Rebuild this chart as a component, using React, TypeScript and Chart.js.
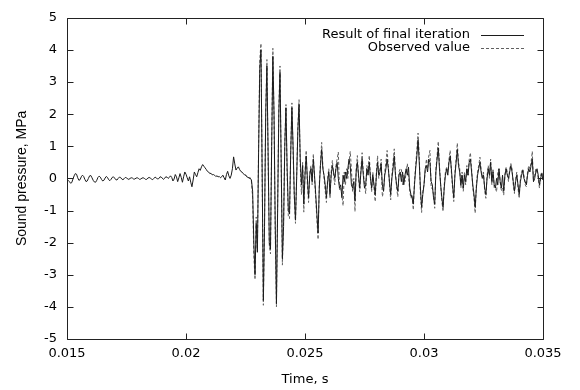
import { useEffect, useRef } from "react";
import { Chart, registerables } from "chart.js";

Chart.register(...registerables);

// Sampled signal: time of first sample and sampling period (s)
const T_START = 0.015;
const T_STEP = 0.00005;
const OBSERVED_START_INDEX = 150;

const resultValues = [
  -0.03, -0.06, -0.1, -0.15, -0.13, -0.02, 0.08, 0.15, 0.13, 0.02,
  -0.06, -0.04, 0.05, 0.1, 0.06, -0.03, -0.1, -0.08, 0.0, 0.08,
  0.09, 0.02, -0.06, -0.11, -0.12, -0.06, 0.03, 0.07, 0.04, -0.03,
  -0.08, -0.06, 0.01, 0.06, 0.03, -0.04, -0.07, -0.03, 0.03, 0.05,
  0.01, -0.04, -0.05, 0.0, 0.04, 0.03, -0.02, -0.04, -0.01, 0.03,
  0.02, -0.02, -0.03, 0.0, 0.02, 0.01, -0.02, -0.02, 0.01, 0.02,
  0.0, -0.03, -0.02, 0.01, 0.02, 0.0, -0.03, -0.03, 0.01, 0.03,
  0.01, -0.02, -0.04, 0.0, 0.04, 0.02, -0.02, -0.01, 0.04, 0.05,
  0.01, -0.03, 0.0, 0.05, 0.04, 0.0, 0.03, 0.08, 0.03, -0.08,
  -0.02, 0.12, 0.05, -0.1, 0.02, 0.15, 0.03, -0.12, 0.05, 0.2,
  0.13, 0.02, -0.08, 0.05, -0.12, -0.26, -0.05, 0.2, 0.12, 0.05,
  0.18, 0.3, 0.25, 0.36, 0.43, 0.38, 0.33, 0.28, 0.22, 0.2,
  0.15, 0.16, 0.11, 0.12, 0.1, 0.06, 0.08, 0.05, 0.06, 0.02,
  0.05, 0.1, 0.02, -0.05, 0.12, 0.22, 0.08, 0.0, 0.1, 0.3,
  0.67, 0.45, 0.26, 0.32, 0.36, 0.28, 0.22, 0.2, 0.15, 0.12,
  0.1, 0.06, 0.03, 0.02, 0.0, -0.05, -0.4, -2.0, -3.0, -1.4,
  -2.3, 0.8, 3.4, 4.0, 0.2, -3.8, -1.5, 2.0, 3.5, 0.8,
  -2.0, -2.2, 1.0, 3.8, 2.0, -1.5, -3.9, -1.0, 2.0, 3.3,
  0.5, -2.5, -1.5, 1.0, 2.2, 0.3, -1.0, -1.1, 0.8, 2.2,
  1.0, -0.5, -1.3, 0.0, 1.5, 2.3, 0.6, -0.2, 0.4, -0.8,
  0.1, 0.7, 0.0, -0.6, 0.1, 0.3, -0.1, 0.6, 0.1, -0.5,
  -1.1, -1.7, -0.3, 0.4, 0.9, 0.3, 0.1, -0.2, -0.6, -0.1,
  0.2, -0.5, 0.1, 0.4, 0.2, 0.0, 0.3, 0.5, 0.0, -0.3,
  -0.2, -0.6, 0.1, -0.1, 0.2, 0.0, 0.3, 0.6, 0.4, -0.2,
  -0.3, -0.1, -0.7, 0.2, 0.5, 0.1, -0.3, 0.2, 0.6, 0.1,
  -0.3, -0.2, 0.3, 0.1, 0.5, 0.0, -0.3, 0.1, -0.2, -0.5,
  0.1, 0.5, 0.1, 0.2, 0.45, -0.2, -0.4, 0.1, 0.3, 0.6,
  0.3, -0.1, -0.5, 0.0, 0.3, 0.7, 0.1, -0.2, -0.4, 0.1,
  0.2, -0.1, 0.2, -0.2, 0.1, 0.3, 0.1, 0.35, -0.3, -0.5,
  -0.6, -0.8, -0.2, 0.3, 0.7, 1.2, 0.5, -0.3, -0.9, -0.5,
  -0.2, 0.3, 0.4, 0.2, 0.6, 0.5, -0.1, -0.2, -0.6, -0.8,
  0.2, 0.6, 0.95, 0.3, -0.2, -0.6, -0.9, -0.3, 0.1, 0.3,
  0.1, 0.5, 0.7, 0.3, -0.2, -0.6, 0.1, 0.5, 0.9, 0.4,
  0.2, -0.2, 0.1, -0.3, 0.1, -0.1, 0.3, 0.1, 0.5, 0.6,
  0.2, -0.2, -0.5, -0.9, -0.3, 0.1, 0.3, 0.5, 0.2, 0.0,
  0.1, -0.3, -0.5, 0.0, 0.3, 0.1, 0.5, -0.1, 0.2, -0.2,
  -0.3, 0.0, -0.2, 0.3, -0.1, -0.3, 0.1, -0.4, 0.1, 0.3,
  0.1, 0.0, 0.2, 0.4, 0.2, -0.1, -0.4, -0.1, 0.1, -0.2,
  -0.5, -0.1, 0.1, 0.25, 0.0, -0.1, -0.2, 0.1, 0.3, 0.2,
  0.4, 0.6, -0.1, 0.0, 0.2, 0.3, 0.1, -0.2, 0.0, 0.15,
  -0.05,
];

const observedValues = [
  0.12, 0.05, 0.04, 0.0, 0.02, -0.1, -0.6, -2.4, -3.15, -1.2,
  -2.2, 1.0, 3.7, 4.2, 0.1, -3.95, -1.3, 2.1, 3.7, 0.6,
  -2.1, -2.35, 1.2, 4.05, 1.8, -1.7, -4.0, -0.8, 2.2, 3.5,
  0.4, -2.7, -1.3, 1.1, 2.3, 0.1, -1.2, -1.25, 0.9, 2.35,
  0.8, -0.6, -1.4, 0.1, 1.6, 2.45, 0.4, -0.5, 0.5, -1.05,
  0.2, 0.87, -0.2, -0.75, 0.2, 0.4, -0.2, 0.76, 0.0, -0.62,
  -1.3, -1.9, -0.2, 0.5, 1.12, 0.4, 0.0, -0.4, -0.75, 0.0,
  0.3, -0.62, 0.2, 0.56, 0.1, -0.2, 0.4, 0.6, 0.82, -0.36,
  -0.3, -0.5, -0.85, 0.2, -0.2, 0.3, 0.0, 0.5, 0.84, 0.3,
  -0.42, 0.0, -1.03, 0.3, 0.71, 0.0, -0.42, 0.3, 0.8, 0.2,
  -0.2, -0.47, 0.4, 0.2, 0.71, 0.1, -0.42, 0.2, -0.3, -0.72,
  0.2, 0.7, 0.0, 0.3, 0.6, -0.57, -0.4, 0.2, 0.5, 0.87,
  0.4, -0.2, -0.67, 0.1, 0.5, 0.92, 0.2, -0.3, -0.57, 0.2,
  0.3, 0.3, -0.2, 0.1, -0.1, 0.2, 0.46, 0.1, -0.4, -0.62,
  -0.5, -0.98, -0.1, 0.4, 0.9, 1.41, 0.71, -0.5, -1.06, -0.4,
  -0.2, 0.2, 0.6, 0.3, 0.7, 0.87, -0.3, -0.3, -0.5, -0.93,
  0.3, 0.7, 1.15, 0.4, -0.2, -0.7, -1.03, -0.2, 0.2, 0.35,
  0.2, 0.6, 0.87, 0.2, -0.3, -0.72, 0.2, 0.6, 1.1, 0.5,
  0.3, -0.3, 0.2, -0.4, 0.2, -0.2, 0.4, 0.1, 0.6, 0.8,
  0.3, -0.3, -0.6, -1.08, -0.2, 0.2, 0.4, 0.66, 0.3, 0.05,
  0.2, -0.4, -0.62, 0.1, 0.4, 0.0, 0.6, -0.2, 0.3, -0.3,
  -0.3, -0.42, 0.2, 0.3, -0.1, -0.4, -0.3, -0.52, 0.1, 0.35,
  0.2, -0.1, 0.3, 0.46, 0.3, -0.2, -0.47, 0.0, 0.2, -0.3,
  -0.62, 0.0, 0.2, 0.3, 0.1, -0.2, -0.26, 0.2, 0.4, 0.3,
  0.5, 0.84, -0.1, 0.1, 0.3, 0.2, 0.0, -0.3, 0.1, 0.2,
  -0.05,
];

const xTickValues = [0.015, 0.02, 0.025, 0.03, 0.035];
const xTickLabels = ["0.015", "0.02", "0.025", "0.03", "0.035"];
const yTickValues = [-5, -4, -3, -2, -1, 0, 1, 2, 3, 4, 5];
const yTickLabels = ["-5", "-4", "-3", "-2", "-1", "0", "1", "2", "3", "4", "5"];

const seriesNames = ["Result of final iteration", "Observed value"];
const xTitle = "Time, s";
const yTitle = "Sound pressure, MPa";

const FONT = '"DejaVu Sans", sans-serif';
const TITLE_FONT = '"Liberation Sans", Arial, sans-serif';

const framePlugin = {
  id: "gnuFrame",
  afterDatasetsDraw(chart: any) {
    const { ctx, chartArea: ca, scales } = chart;
    const L = Math.round(ca.left) + 0.5;
    const R = Math.round(ca.right) + 0.5;
    const T = Math.round(ca.top) + 0.5;
    const B = Math.round(ca.bottom) + 0.5;
    const tl = 6;
    ctx.save();
    ctx.strokeStyle = "#222";
    ctx.lineWidth = 1;
    ctx.setLineDash([]);
    ctx.beginPath();
    ctx.rect(L, T, R - L, B - T);
    for (const t of scales.x.ticks) {
      const px = Math.round(scales.x.getPixelForValue(t.value)) + 0.5;
      ctx.moveTo(px, B);
      ctx.lineTo(px, B - tl);
      ctx.moveTo(px, T);
      ctx.lineTo(px, T + tl);
    }
    for (const t of scales.y.ticks) {
      const py = Math.round(scales.y.getPixelForValue(t.value)) + 0.5;
      ctx.moveTo(L, py);
      ctx.lineTo(L + tl, py);
      ctx.moveTo(R, py);
      ctx.lineTo(R - tl, py);
    }
    ctx.stroke();
    ctx.restore();
  },
};

const legendPlugin = {
  id: "gnuLegend",
  afterDraw(chart: any) {
    const { ctx, chartArea: ca } = chart;
    chart.data.datasets.forEach((ds: any, k: number) => {
      const y = Math.round(ca.top + 17 + k * 13.5);
      ctx.save();
      ctx.font = `13px ${FONT}`;
      ctx.fillStyle = "#000";
      ctx.textAlign = "right";
      ctx.textBaseline = "middle";
      ctx.fillText(ds.label, ca.right - 73, y);
      ctx.strokeStyle = ds.borderColor;
      ctx.lineWidth = 1;
      ctx.setLineDash(ds.borderDash || []);
      ctx.beginPath();
      ctx.moveTo(ca.right - 62, y + 0.5);
      ctx.lineTo(ca.right - 19, y + 0.5);
      ctx.stroke();
      ctx.restore();
    });
  },
};

export default function App() {
  const ref = useRef<HTMLCanvasElement | null>(null);

  useEffect(() => {
    if (!ref.current) return;
    const resultData = resultValues.map((v, i) => ({ x: T_START + i * T_STEP, y: v }));
    const observedData = observedValues.map((v, i) => ({
      x: T_START + (OBSERVED_START_INDEX + i) * T_STEP,
      y: v,
    }));

    const chart = new Chart(ref.current, {
      type: "line",
      data: {
        datasets: [
          {
            label: seriesNames[0],
            data: resultData,
            borderColor: "#1c1c1c",
            borderWidth: 1,
            pointRadius: 0,
            tension: 0,
            fill: false,
          },
          {
            label: seriesNames[1],
            data: observedData,
            borderColor: "#606060",
            borderWidth: 1,
            borderDash: [3, 2],
            pointRadius: 0,
            tension: 0,
            fill: false,
          },
        ],
      },
      options: {
        animation: false,
        responsive: false,
        devicePixelRatio: 1,
        events: [],
        layout: { padding: { top: 14, right: 37, left: 0, bottom: 0 } },
        plugins: {
          legend: { display: false },
          tooltip: { enabled: false },
        },
        scales: {
          x: {
            type: "linear",
            min: 0.015,
            max: 0.035,
            afterBuildTicks: (scale: any) => {
              scale.ticks = xTickValues.map((v) => ({ value: v }));
            },
            afterFit: (scale: any) => {
              scale.height = 51;
            },
            grid: { display: false, drawTicks: false },
            border: { display: false },
            ticks: {
              padding: 7,
              color: "#000",
              font: { family: FONT, size: 13 },
              maxRotation: 0,
              autoSkip: false,
              callback: (v: any) => {
                const idx = xTickValues.findIndex((t) => Math.abs(t - Number(v)) < 1e-9);
                return idx >= 0 ? xTickLabels[idx] : "";
              },
            },
            title: {
              display: true,
              text: xTitle,
              color: "#000",
              font: { family: FONT, size: 13 },
              padding: { top: 0, bottom: 3 },
            },
          },
          y: {
            type: "linear",
            min: -5,
            max: 5,
            afterBuildTicks: (scale: any) => {
              scale.ticks = yTickValues.map((v) => ({ value: v }));
            },
            afterFit: (scale: any) => {
              scale.width = 67;
            },
            grid: { display: false, drawTicks: false },
            border: { display: false },
            ticks: {
              padding: 10,
              color: "#000",
              font: { family: FONT, size: 13 },
              autoSkip: false,
              callback: (v: any) => {
                const idx = yTickValues.indexOf(Number(v));
                return idx >= 0 ? yTickLabels[idx] : "";
              },
            },
            title: {
              display: true,
              text: yTitle,
              color: "#000",
              font: { family: TITLE_FONT, size: 14 },
              padding: { top: 14, bottom: 0 },
            },
          },
        },
      } as any,
      plugins: [framePlugin, legendPlugin],
    });

    return () => chart.destroy();
  }, []);

  return (
    <div style={{ position: "fixed", left: 0, top: 0, width: 580, height: 390, background: "#fff" }}>
      <canvas ref={ref} width={580} height={390} style={{ display: "block" }} />
    </div>
  );
}
